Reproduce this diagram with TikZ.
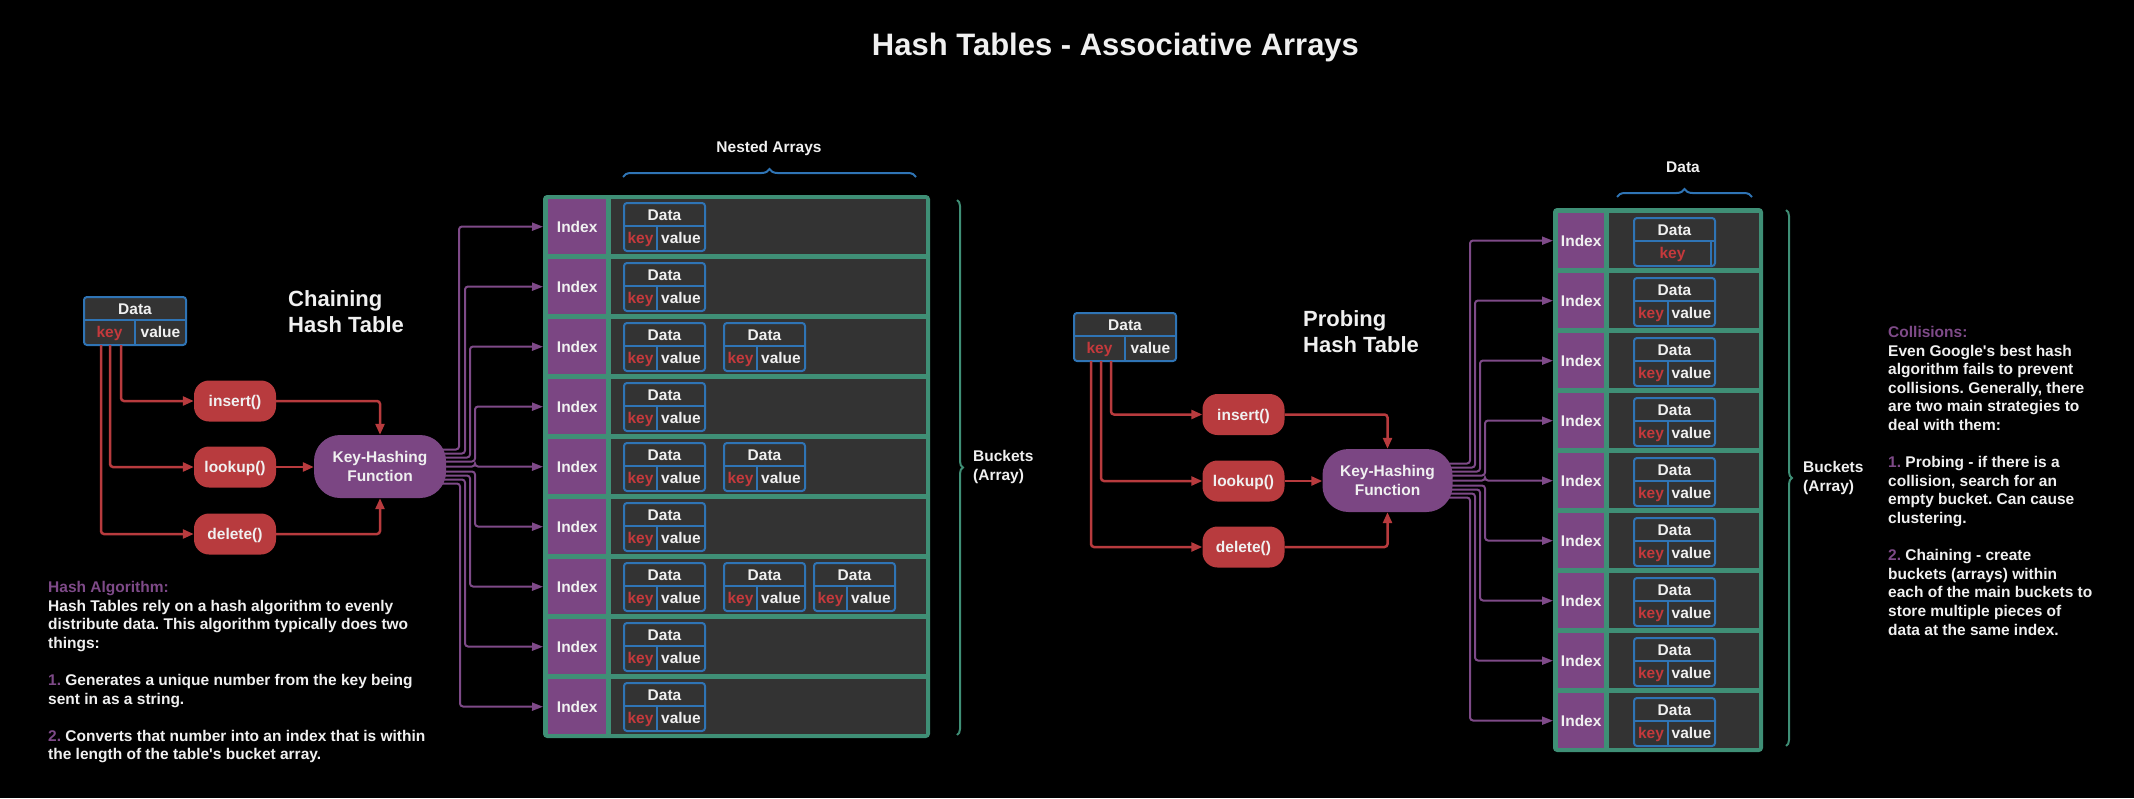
\documentclass[tikz,border=0pt]{standalone}
\usepackage{fontspec}
\setmainfont{Liberation Sans}
\usetikzlibrary{arrows.meta,decorations.pathreplacing}
\pgfdeclarelayer{bg}
\pgfsetlayers{bg,main}
\frenchspacing

\definecolor{cellgray}{HTML}{333333}
\definecolor{tgreen}{HTML}{3F8F76}
\definecolor{ipurple}{HTML}{7B4683}
\definecolor{lpurple}{HTML}{7E4A88}
\definecolor{bred}{HTML}{B83B3E}
\definecolor{keyred}{HTML}{C4393C}
\definecolor{dblue}{HTML}{2F74B5}
\definecolor{txtwhite}{HTML}{F0F0F0}

\newcommand{\lblfont}{\fontsize{15.5}{18.6}\selectfont\bfseries}

\tikzset{
  lbl/.style={text=txtwhite, font=\lblfont, inner sep=0pt, text height=11.5pt, text depth=0pt},
  dframe/.style={draw=dblue, line width=2pt, fill=cellgray, rounded corners=3pt, minimum height=48pt, inner sep=0pt, outer sep=0pt},
  dline/.style={draw=dblue, line width=2pt},
  idxcell/.style={lbl, fill=ipurple, minimum height=55pt, anchor=north west},
  btn/.style={lbl, fill=bred, rounded corners=15pt, minimum width=82pt, minimum height=41pt},
  hashfn/.style={fill=ipurple, text=txtwhite, font=\lblfont, rounded corners=26pt, minimum width=132pt, minimum height=63pt, align=center, inner sep=0pt},
  tabframe/.style={fill=tgreen, rounded corners=4pt, inner sep=0pt, outer sep=0pt, anchor=north west},
  redarr/.style={draw=bred, line width=2.5pt, rounded corners=3pt, -{Triangle[length=11pt,width=9pt]}},
  fan/.style={draw=lpurple, line width=2pt, rounded corners=3pt, -{Triangle[length=11pt,width=8pt]}},
  bluebrace/.style={draw=dblue, line width=2pt, decorate, decoration={brace, amplitude=8pt}},
  greenbrace/.style={draw=tgreen, line width=2pt, decorate, decoration={brace, amplitude=6pt}},
  heading/.style={text=txtwhite, font=\fontsize{22}{26}\selectfont\bfseries, align=left, inner sep=0pt, anchor=north west},
  note/.style={text=txtwhite, font=\lblfont, align=left, inner sep=0pt, anchor=north west}
}

% name, x, y (top left), width, key width, value text
\newcommand{\databox}[6]{%
  \node[dframe, minimum width=#4, anchor=north west] (#1) at (#2,{#3}) {};
  \draw[dline] ([yshift=-23]#1.north west) -- ([yshift=-23]#1.north east);
  \draw[dline] ([xshift=#5,yshift=-23]#1.north west) -- ([xshift=#5]#1.south west);
  \node[lbl] at ([yshift=-11.5]#1.north) {Data};
  \node[lbl, text=keyred] at ([xshift=#5/2,yshift=13.5]#1.south west) {key};
  \node[lbl] at ([xshift={(#4+#5)/2},yshift=13.5]#1.south west) {#6};
}

\begin{document}
\begin{tikzpicture}[x=1pt, y=-1pt]
\useasboundingbox (0,0) rectangle (2134,798);

\node[text=txtwhite, font=\fontsize{31}{36}\selectfont\bfseries, anchor=base] (title) at (1115.5,55) {Hash Tables - Associative Arrays};

% chaining side
\databox{ld}{84}{297}{102}{51}{value}
\node[btn] (ins) at (235,401) {insert()};
\node[btn] (look) at (235,467) {lookup()};
\node[btn] (del) at (235,534) {delete()};
\node[hashfn] (khf) at (380,466.5) {Key-Hashing\\Function};
\node[heading] (chead) at (288,290) {Chaining\\Hash Table};

\draw[redarr] ([xshift=37]ld.south west) |- (ins.west);
\draw[redarr] ([xshift=26]ld.south west) |- (look.west);
\draw[redarr] ([xshift=17]ld.south west) |- (del.west);
\draw[redarr] (ins.east) -| (khf.north);
\draw[redarr] (look.east) -- (look.east -| khf.west);
\draw[redarr] (del.east) -| (khf.south);

\node[tabframe, minimum width=387pt, minimum height=543pt] (ctab) at (543,195) {};
\foreach \i in {0,...,8}{
  \node[idxcell, minimum width=58pt] (ci\i) at (548,{199+60*\i}) {Index};
  \fill[cellgray] (611,{199+60*\i}) rectangle ++(315,55);
}
\databox{c0a}{624}{203}{81}{33}{value}
\databox{c1a}{624}{263}{81}{33}{value}
\databox{c2a}{624}{323}{81}{33}{value}
\databox{c2b}{724}{323}{81}{33}{value}
\databox{c3a}{624}{383}{81}{33}{value}
\databox{c4a}{624}{443}{81}{33}{value}
\databox{c4b}{724}{443}{81}{33}{value}
\databox{c5a}{624}{503}{81}{33}{value}
\databox{c6a}{624}{563}{81}{33}{value}
\databox{c6b}{724}{563}{81}{33}{value}
\databox{c6c}{814}{563}{81}{33}{value}
\databox{c7a}{624}{623}{81}{33}{value}
\databox{c8a}{624}{683}{81}{33}{value}

\node[lbl] (nested) at (769,147) {Nested Arrays};
\draw[bluebrace] (623,177) -- (916,177);
\draw[greenbrace] (957,200) -- (957,735);
\node[note] (cbuck) at (973,450) {Buckets\\(Array)};

% probing side
\databox{rd}{1074}{313}{102}{51}{value}
\node[btn] (pins) at (1243.5,414.5) {insert()};
\node[btn] (plook) at (1243.5,481) {lookup()};
\node[btn] (pdel) at (1243.5,547) {delete()};
\node[hashfn, minimum width=130pt] (pkhf) at (1387.5,480.5) {Key-Hashing\\Function};
\node[heading] (phead) at (1303,310) {Probing\\Hash Table};

\draw[redarr] ([xshift=37]rd.south west) |- (pins.west);
\draw[redarr] ([xshift=27]rd.south west) |- (plook.west);
\draw[redarr] ([xshift=17]rd.south west) |- (pdel.west);
\draw[redarr] (pins.east) -| (pkhf.north);
\draw[redarr] (plook.east) -- (plook.east -| pkhf.west);
\draw[redarr] (pdel.east) -| (pkhf.south);

\node[tabframe, minimum width=210pt, minimum height=544pt] (ptab) at (1553,208) {};
\foreach \i in {0,...,8}{
  \node[idxcell, minimum width=46pt] (pi\i) at (1558,{213+60*\i}) {Index};
  \fill[cellgray] (1609,{213+60*\i}) rectangle ++(150,55);
}
\databox{p0}{1634}{218}{81}{77}{}
\foreach \i in {1,...,8}{
  \databox{p\i}{1634}{218+60*\i}{81}{34}{value}
}

\node[lbl] (pdata) at (1683,167) {Data};
\draw[bluebrace] (1617,197) -- (1752,197);
\draw[greenbrace] (1786,210) -- (1786,746);
\node[note] (pbuck) at (1803,461.5) {Buckets\\(Array)};

% notes
\node[note] (algo) at (48,581) {{\color{lpurple}Hash Algorithm:}\\
Hash Tables rely on a hash algorithm to evenly\\
distribute data. This algorithm typically does two\\
things:\\[18.6pt]
{\color{lpurple}1.} Generates a unique number from the key being\\
sent in as a string.\\[18.6pt]
{\color{lpurple}2.} Converts that number into an index that is within\\
the length of the table\textquotesingle s bucket array.};

\node[note] (coll) at (1888,326) {{\color{lpurple}Collisions:}\\
Even Google\textquotesingle s best hash\\
algorithm fails to prevent\\
collisions. Generally, there\\
are two main strategies to\\
deal with them:\\[18.6pt]
{\color{lpurple}1.} Probing - if there is a\\
collision, search for an\\
empty bucket. Can cause\\
clustering.\\[18.6pt]
{\color{lpurple}2.} Chaining - create\\
buckets (arrays) within\\
each of the main buckets to\\
store multiple pieces of\\
data at the same index.};

\begin{pgfonlayer}{bg}
\fill[black] (0,0) rectangle (2134,798);
\foreach \i/\o/\vx in {0/17/459,1/13/465,2/9/470,3/5/475,4/0/475,5/-5/475,6/-9/470,7/-13/465,8/-17/460}
  \draw[fan] ([yshift=\o]khf.center) -| (\vx,{226.5+60*\i}) -- (ctab.west |- ci\i.west);
\foreach \i/\o/\vx in {0/17/1470,1/13/1475,2/9/1480,3/5/1485,4/0/1485,5/-5/1485,6/-9/1480,7/-13/1475,8/-17/1470}
  \draw[fan] ([yshift=\o]pkhf.center) -| (\vx,{240.5+60*\i}) -- (ptab.west |- pi\i.west);
\end{pgfonlayer}
\end{tikzpicture}
\end{document}
